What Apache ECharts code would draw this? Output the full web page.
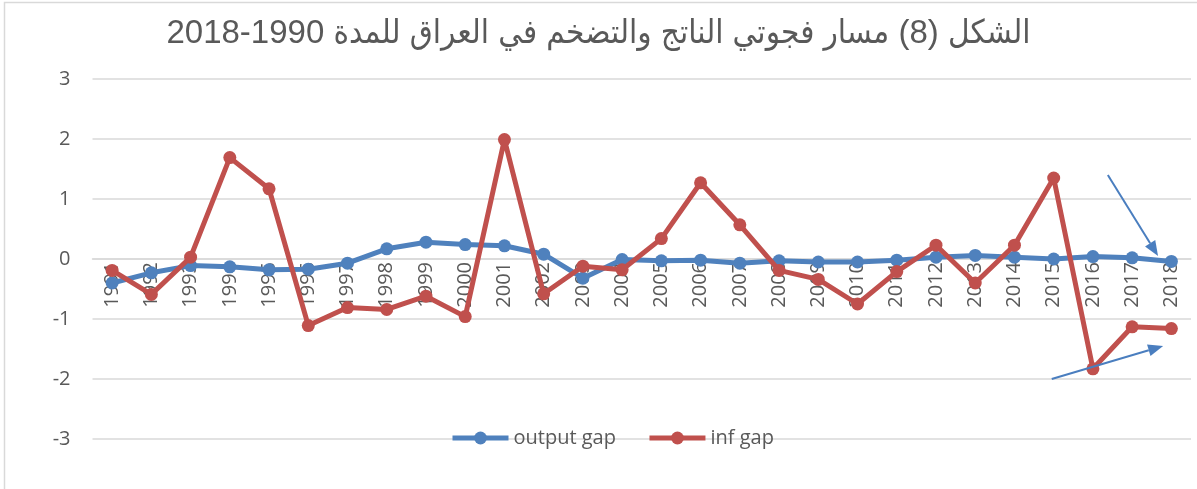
<!DOCTYPE html>
<html>
<head>
<meta charset="utf-8">
<script src="https://cdn.jsdelivr.net/npm/echarts@6/dist/echarts.min.js"></script>
<style>
    html, body { margin: 0; padding: 0; background: #fff; }
    #chart { width: 1197px; height: 489px; }
</style>
</head>
<body>
<div id="chart"></div>
<script>
    // 数据
    const years = ['1991','1992','1993','1994','1995','1996','1997','1998','1999','2000',
                   '2001','2002','2003','2004','2005','2006','2007','2008','2009','2010',
                   '2011','2012','2013','2014','2015','2016','2017','2018'];
    const outputGap = [-0.40, -0.23, -0.11, -0.13, -0.18, -0.17, -0.07, 0.17, 0.28, 0.24,
                       0.22, 0.08, -0.32, -0.01, -0.03, -0.02, -0.07, -0.03, -0.05, -0.05,
                       -0.02, 0.03, 0.06, 0.03, 0.00, 0.04, 0.02, -0.04];
    const infGap = [-0.19, -0.59, 0.03, 1.69, 1.17, -1.11, -0.81, -0.84, -0.62, -0.96,
                    1.99, -0.58, -0.12, -0.18, 0.34, 1.27, 0.57, -0.19, -0.34, -0.75,
                    -0.21, 0.23, -0.40, 0.23, 1.35, -1.83, -1.13, -1.16];
    const seriesNames = ['output gap', 'inf gap'];
    // arrows drawn on the chart: [category index, value] start -> end
    const arrowTop = [[25.38, 1.40], [26.66, 0.05]];
    const arrowBottom = [[23.95, -2.00], [26.79, -1.45]];

    const textColor = '#595959';
    const gridColor = '#d9d9d9';
    const arrowColor = '#4a7ebf';

    let myChart = echarts.init(document.getElementById('chart'));
    let option = {
        animation: false,
        title: {
            text: 'الشكل (8) مسار فجوتي الناتج والتضخم في العراق للمدة 1990-2018',
            left: 'center',
            top: 12,
            textStyle: {
                fontFamily: '"Liberation Sans", "DejaVu Sans Condensed", "DejaVu Sans", sans-serif',
                fontSize: 33,
                fontWeight: 'normal',
                color: textColor
            }
        },
        color: ['#4f81bd', '#c0504d'],
        legend: {
            left: 450,
            top: 428,
            padding: 0,
            itemWidth: 56,
            itemHeight: 16,
            itemGap: 31,
            lineStyle: { width: 5 },
            textStyle: {
                fontFamily: '"Open Sans", sans-serif',
                fontSize: 20,
                color: textColor
            },
            data: seriesNames
        },
        grid: {
            left: 92.5,
            right: 6,
            top: 79,
            bottom: 50
        },
        xAxis: {
            type: 'category',
            data: years,
            boundaryGap: true,
            // 轴放在 0 的位置（grid 底部到 0 线 180px）
            offset: -180,
            axisLine: {
                show: true,
                onZero: false,
                lineStyle: { color: gridColor, width: 1.5 }
            },
            axisTick: { show: false },
            axisLabel: {
                rotate: 90,
                margin: 3,
                interval: 0,
                fontFamily: '"Open Sans", sans-serif',
                fontSize: 20,
                color: textColor
            }
        },
        yAxis: {
            type: 'value',
            min: -3,
            max: 3,
            interval: 1,
            axisLine: { show: false },
            axisTick: { show: false },
            axisLabel: {
                margin: 22,
                fontFamily: '"Open Sans", sans-serif',
                fontSize: 20,
                color: textColor
            },
            splitLine: {
                lineStyle: { color: gridColor, width: 1.5 }
            }
        },
        series: [
            {
                name: seriesNames[0],
                type: 'line',
                data: outputGap,
                symbol: 'circle',
                symbolSize: 13,
                lineStyle: { width: 5 },
                z: 3
            },
            {
                name: seriesNames[1],
                type: 'line',
                data: infGap,
                symbol: 'circle',
                symbolSize: 13,
                lineStyle: { width: 5 },
                z: 4
            }
        ]
    };
    myChart.setOption(option);

    // 箭头：用坐标轴换算像素位置
    function toPixel(p) {
        let x0 = myChart.convertToPixel({ xAxisIndex: 0 }, 0);
        let x1 = myChart.convertToPixel({ xAxisIndex: 0 }, 1);
        let y = myChart.convertToPixel({ yAxisIndex: 0 }, p[1]);
        return [x0 + (x1 - x0) * p[0], y];
    }

    function arrowGraphics(arrow) {
        let a = toPixel(arrow[0]);
        let b = toPixel(arrow[1]);
        let ang = Math.atan2(b[1] - a[1], b[0] - a[0]);
        let len = 15, half = 6;
        let base = [b[0] - len * Math.cos(ang), b[1] - len * Math.sin(ang)];
        let nx = -Math.sin(ang), ny = Math.cos(ang);
        return [
            {
                type: 'line',
                shape: { x1: a[0], y1: a[1], x2: base[0], y2: base[1] },
                style: { stroke: arrowColor, lineWidth: 2 },
                z: 10
            },
            {
                type: 'polygon',
                shape: {
                    points: [
                        b,
                        [base[0] + nx * half, base[1] + ny * half],
                        [base[0] - nx * half, base[1] - ny * half]
                    ]
                },
                style: { fill: arrowColor },
                z: 10
            }
        ];
    }

    myChart.setOption({
        graphic: [
            {
                type: 'rect',
                shape: { x: 4.5, y: 2.5, width: 1400, height: 700 },
                style: { fill: null, stroke: gridColor, lineWidth: 1.5 },
                silent: true
            }
        ].concat(arrowGraphics(arrowTop), arrowGraphics(arrowBottom))
    });
</script>
</body>
</html>
